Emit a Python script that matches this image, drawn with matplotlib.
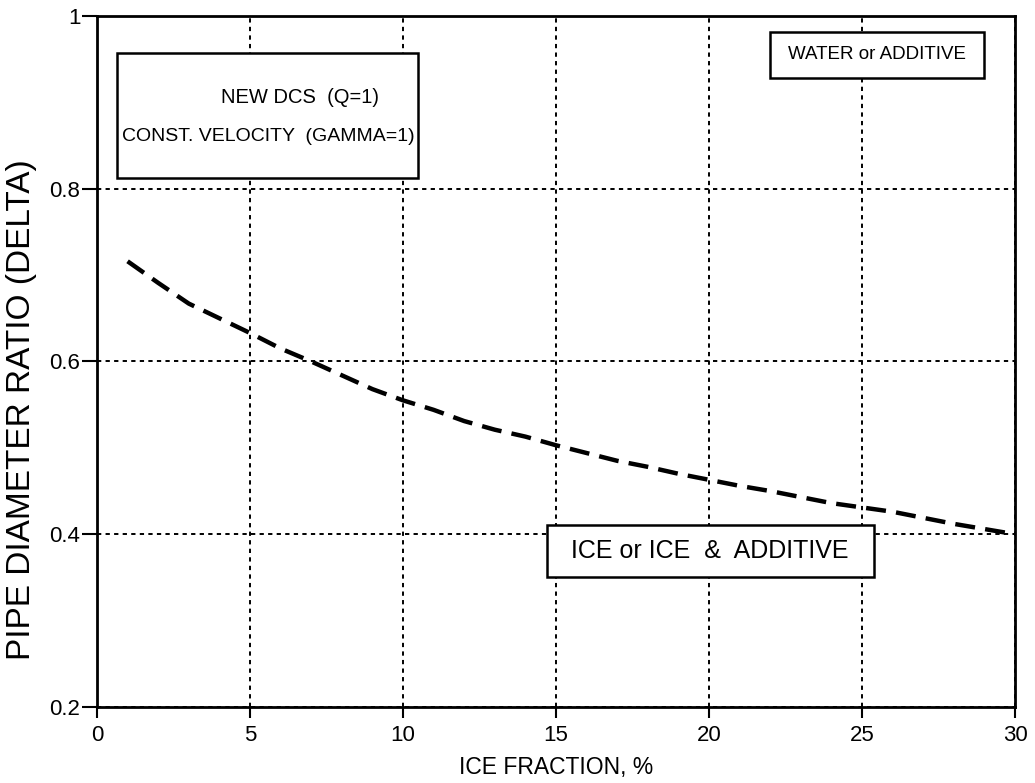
import matplotlib
matplotlib.use("Agg")
import matplotlib.pyplot as plt
from matplotlib.patches import Rectangle

# ice fraction (%) and pipe diameter ratio
ice_fraction = [1, 2, 3, 4, 5, 6, 7, 8, 9, 10, 11, 12, 13, 14, 15,
                16, 17, 18, 19, 20, 21, 22, 23, 24, 25, 26, 27, 28, 29, 30]
delta = [0.716, 0.691, 0.667, 0.650, 0.633, 0.615, 0.600, 0.584, 0.568, 0.555,
         0.544, 0.531, 0.521, 0.513, 0.503, 0.494, 0.485, 0.478, 0.470, 0.463,
         0.456, 0.450, 0.443, 0.436, 0.431, 0.426, 0.419, 0.412, 0.406, 0.400]

x_ticks = [0, 5, 10, 15, 20, 25, 30]
y_ticks = [0.2, 0.4, 0.6, 0.8, 1.0]
y_tick_labels = ["0.2", "0.4", "0.6", "0.8", "1"]

plt.rcParams['font.family'] = ['Liberation Sans', 'DejaVu Sans']

fig = plt.figure(figsize=(10.35, 7.83), dpi=100)
ax = fig.add_axes([0.0937, 0.0971, 0.887, 0.8825])

ax.plot(ice_fraction, delta, color='black', linewidth=3.2,
        linestyle=(0, (4.5, 2.3)), zorder=4)

ax.set_xlim(0, 30)
ax.set_ylim(0.2, 1.0)
ax.set_xticks(x_ticks)
ax.set_yticks(y_ticks)
ax.set_yticklabels(y_tick_labels)
ax.tick_params(axis='both', direction='out', width=1.5, labelsize=16)
ax.tick_params(axis='y', length=11, pad=1)
ax.tick_params(axis='x', length=8, pad=5)

ax.grid(True, color='black', linestyle=(0, (2.2, 2.2)), linewidth=1.4, zorder=1)
for s in ax.spines.values():
    s.set_linewidth(2)
    s.set_zorder(5)

ax.set_xlabel("ICE FRACTION, %", fontsize=16.5, labelpad=7)
ax.set_ylabel("PIPE DIAMETER RATIO (DELTA)", fontsize=24)
ax.yaxis.set_label_coords(-0.065, 0.43)

# annotation boxes (white fill hides the grid underneath)
box_style = dict(facecolor='white', edgecolor='black', linewidth=1.8, zorder=3)
ax.add_patch(Rectangle((0.65, 0.8125), 9.85, 0.1445, **box_style))
ax.add_patch(Rectangle((22.0, 0.928), 7.0, 0.053, **box_style))
ax.add_patch(Rectangle((14.7, 0.3505), 10.7, 0.0605, **box_style))

txt = dict(ha='center', va='center', zorder=6)
ax.text(6.63, 0.906, "NEW DCS  (Q=1)", fontsize=14.5, **txt)
ax.text(5.6, 0.86, "CONST. VELOCITY  (GAMMA=1)", fontsize=14, **txt)
ax.text(25.5, 0.955, "WATER or ADDITIVE", fontsize=13.5, **txt)
ax.text(20.03, 0.381, "ICE or ICE  &  ADDITIVE", fontsize=18, **txt)

fig.savefig("out.png", dpi=100)
